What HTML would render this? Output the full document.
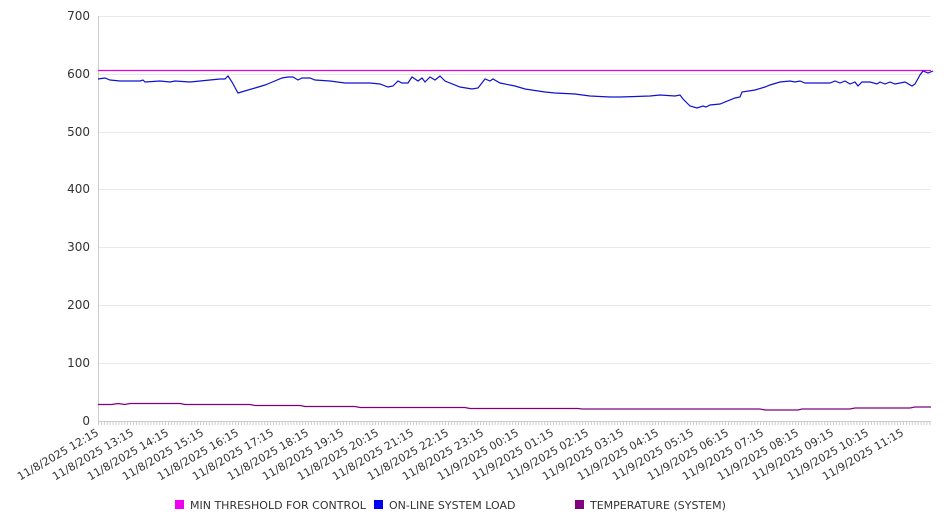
<!DOCTYPE html>
<html><head><meta charset="utf-8"><style>
html,body{margin:0;padding:0;background:#fff;}
svg{display:block;font-family:"DejaVu Sans","Liberation Sans",sans-serif;}
</style></head><body>
<svg width="946" height="526" xmlns="http://www.w3.org/2000/svg">
<defs>
<pattern id="tk" patternUnits="userSpaceOnUse" x="98" y="421" width="2.9167" height="5">
<rect x="0" y="0" width="1" height="5" fill="#ccc"/>
</pattern>
</defs>
<g stroke="#e8e8e8" stroke-width="1">
<line x1="98" y1="16.5" x2="931" y2="16.5"/>
<line x1="98" y1="74.5" x2="931" y2="74.5"/>
<line x1="98" y1="132.5" x2="931" y2="132.5"/>
<line x1="98" y1="189.5" x2="931" y2="189.5"/>
<line x1="98" y1="247.5" x2="931" y2="247.5"/>
<line x1="98" y1="305.5" x2="931" y2="305.5"/>
<line x1="98" y1="363.5" x2="931" y2="363.5"/>
</g>
<line x1="98.5" y1="16" x2="98.5" y2="421" stroke="#ccc"/>
<line x1="98" y1="421.5" x2="931" y2="421.5" stroke="#ccc"/>
<rect x="98" y="421" width="834" height="4" fill="url(#tk)"/>
<g font-size="12" fill="#333" text-anchor="end">
<text x="90" y="20">700</text><text x="90" y="78">600</text><text x="90" y="136">500</text>
<text x="90" y="193">400</text><text x="90" y="251">300</text><text x="90" y="309">200</text>
<text x="90" y="367">100</text><text x="90" y="425">0</text>
</g>
<g font-size="11" fill="#333" text-anchor="end">
<text transform="translate(95,427) rotate(-30)" y="9">11/8/2025 12:15</text>
<text transform="translate(130,427) rotate(-30)" y="9">11/8/2025 13:15</text>
<text transform="translate(165,427) rotate(-30)" y="9">11/8/2025 14:15</text>
<text transform="translate(200,427) rotate(-30)" y="9">11/8/2025 15:15</text>
<text transform="translate(235,427) rotate(-30)" y="9">11/8/2025 16:15</text>
<text transform="translate(270,427) rotate(-30)" y="9">11/8/2025 17:15</text>
<text transform="translate(305,427) rotate(-30)" y="9">11/8/2025 18:15</text>
<text transform="translate(340,427) rotate(-30)" y="9">11/8/2025 19:15</text>
<text transform="translate(375,427) rotate(-30)" y="9">11/8/2025 20:15</text>
<text transform="translate(410,427) rotate(-30)" y="9">11/8/2025 21:15</text>
<text transform="translate(445,427) rotate(-30)" y="9">11/8/2025 22:15</text>
<text transform="translate(480,427) rotate(-30)" y="9">11/8/2025 23:15</text>
<text transform="translate(515,427) rotate(-30)" y="9">11/9/2025 00:15</text>
<text transform="translate(550,427) rotate(-30)" y="9">11/9/2025 01:15</text>
<text transform="translate(585,427) rotate(-30)" y="9">11/9/2025 02:15</text>
<text transform="translate(620,427) rotate(-30)" y="9">11/9/2025 03:15</text>
<text transform="translate(655,427) rotate(-30)" y="9">11/9/2025 04:15</text>
<text transform="translate(690,427) rotate(-30)" y="9">11/9/2025 05:15</text>
<text transform="translate(725,427) rotate(-30)" y="9">11/9/2025 06:15</text>
<text transform="translate(760,427) rotate(-30)" y="9">11/9/2025 07:15</text>
<text transform="translate(795,427) rotate(-30)" y="9">11/9/2025 08:15</text>
<text transform="translate(830,427) rotate(-30)" y="9">11/9/2025 09:15</text>
<text transform="translate(865,427) rotate(-30)" y="9">11/9/2025 10:15</text>
<text transform="translate(900,427) rotate(-30)" y="9">11/9/2025 11:15</text>
</g>
<line x1="98" y1="70.5" x2="931" y2="70.5" stroke="#e000e0" stroke-width="1.2"/>
<polyline fill="none" stroke="#1010d0" stroke-width="1.2" points="98,79 105,78 110,80 120,81 140,81 143,80 145,82 160,81 170,82 175,81 190,82 200,81 220,79 225,79 228,76 232,82 238,93 255,88 265,85 270,83 282,78 288,77 293,77 298,80 302,78 310,78 315,80 330,81 345,83 370,83 380,84 388,87 393,86 398,81 402,83 408,83 412,77 418,81 422,78 425,82 430,77 435,80 440,76 445,81 460,87 472,89 478,88 485,79 490,81 493,79 500,83 515,86 525,89 545,92 555,93 575,94 590,96 610,97 620,97 650,96 660,95 675,96 680,95 683,99 690,106 697,108 703,106 706,107 710,105 720,104 735,98 740,97 742,92 755,90 765,87 770,85 780,82 790,81 795,82 800,81 805,83 830,83 835,81 840,83 845,81 850,84 855,82 858,86 862,82 870,82 877,84 880,82 885,84 890,82 895,84 905,82 912,86 915,84 920,75 923,71 928,73 933,71"/>
<polyline fill="none" stroke="#800080" stroke-width="1.2" points="98,404.5 112,404.5 118,403.5 125,404.5 130,403.5 180,403.5 185,404.5 250,404.5 255,405.5 300,405.5 305,406.5 355,406.5 360,407.5 465,407.5 470,408.5 578,408.5 582,409 760,409 765,410 798,410 802,409 850,409 855,408 910,408 915,407 931,407"/>
<g font-size="11" fill="#333">
<rect x="175" y="500" width="9" height="9" fill="#f000f0"/><text x="190" y="509">MIN THRESHOLD FOR CONTROL</text>
<rect x="374" y="500" width="9" height="9" fill="#0000f0"/><text x="389" y="509">ON-LINE SYSTEM LOAD</text>
<rect x="575" y="500" width="9" height="9" fill="#800080"/><text x="590" y="509">TEMPERATURE (SYSTEM)</text>
</g>
</svg>
</body></html>
